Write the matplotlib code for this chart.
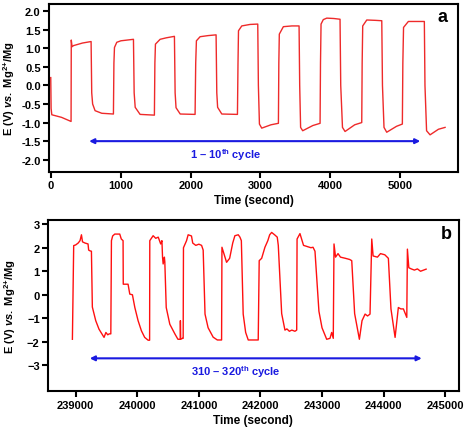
import matplotlib
matplotlib.use('Agg')
import matplotlib.pyplot as plt

plt.rcParams['font.family'] = ['Liberation Sans', 'DejaVu Sans']
plt.rcParams['font.weight'] = 'bold'
plt.rcParams['mathtext.fontset'] = 'custom'
plt.rcParams['mathtext.rm'] = 'Liberation Sans:bold'
plt.rcParams['mathtext.it'] = 'Liberation Sans:italic:bold'
plt.rcParams['mathtext.bf'] = 'Liberation Sans:bold'

# panel a : cycles 1-10
time_a = [-5, 0, 10, 150, 286,
          289, 300, 320, 450, 573,
          582, 595, 630, 726, 893,
          900, 908, 941, 1000, 1180,
          1190, 1205, 1275, 1480,
          1487, 1495, 1562, 1650, 1767,
          1777, 1790, 1850, 2063,
          2072, 2082, 2135, 2250, 2364,
          2374, 2386, 2446, 2670,
          2678, 2685, 2732, 2850, 2961,
          2970, 2985, 3018, 3150, 3257,
          3263, 3270, 3328, 3450, 3553,
          3562, 3575, 3605, 3750, 3854,
          3860, 3868, 3900, 3950, 4050, 4140,
          4150, 4175, 4212, 4350, 4451,
          4457, 4465, 4523, 4650, 4738,
          4748, 4770, 4809, 4950, 5033,
          5040, 5050, 5119, 5250, 5348,
          5357, 5380, 5430, 5550, 5645]
volt_a = [0.21, -0.62, -0.79, -0.86, -0.97,
          1.22, 1.04, 1.07, 1.14, 1.18,
          -0.2, -0.5, -0.68, -0.75, -0.77,
          0.6, 1.02, 1.16, 1.2, 1.24,
          -0.2, -0.59, -0.78, -0.80,
          0.6, 1.11, 1.24, 1.28, 1.32,
          -0.2, -0.6, -0.77, -0.78,
          0.6, 1.2, 1.31, 1.34, 1.36,
          -0.2, -0.59, -0.77, -0.78,
          0.6, 1.47, 1.6, 1.64, 1.65,
          0.0, -1.04, -1.15, -1.06, -1.02,
          0.6, 1.38, 1.58, 1.6, 1.6,
          0.0, -1.13, -1.22, -1.08, -1.02,
          0.6, 1.65, 1.77, 1.81, 1.8, 1.78,
          0.0, -1.13, -1.24, -1.06, -1.0,
          0.6, 1.6, 1.76, 1.75, 1.74,
          0.0, -1.13, -1.26, -1.1, -1.04,
          0.6, 1.56, 1.72, 1.72, 1.72,
          0.0, -1.22, -1.33, -1.18, -1.13]

# panel b : cycles 310-320
time_b = [238946, 238967, 239000, 239040, 239070, 239093, 239110, 239150, 239200, 239210, 239230, 239255,
          239270, 239325, 239378, 239460, 239490, 239520, 239545, 239570,
          239580, 239600, 239634, 239715, 239740, 239769, 239772, 239850, 239878, 239921,
          239960, 240013, 240067, 240120, 240176, 240200,
          240203, 240257, 240300, 240340, 240360, 240380, 240400, 240410, 240420, 240440, 240447,
          240470, 240528, 240610, 240660, 240698, 240700, 240705, 240735, 240745,
          240750, 240800, 240826, 240880, 240900, 240950, 241000, 241044, 241070,
          241100, 241150, 241232, 241300, 241369,
          241375, 241450, 241500, 241550, 241585, 241640, 241667, 241690,
          241720, 241760, 241802, 241964,
          241980, 242020, 242073, 242120, 242150, 242182, 242230, 242273, 242290,
          242345, 242398, 242430, 242470, 242510, 242560, 242589,
          242595, 242642, 242700, 242760, 242820, 242854, 242886,
          242950, 243000, 243076, 243130, 243157, 243183,
          243195, 243220, 243260, 243300, 243380, 243450, 243483,
          243530, 243607, 243650, 243700, 243740, 243780,
          243808, 243830, 243900, 243950, 244020, 244078,
          244120, 244187, 244240, 244280, 244322, 244377,
          244387, 244410, 244450, 244500, 244550, 244600, 244650, 244691]
volt_b = [-1.89, 2.09, 2.12, 2.2, 2.3, 2.55, 2.25, 2.2, 2.16, 1.9, 1.87, 1.85,
          -0.52, -1.1, -1.46, -1.81, -1.6, -1.7, -1.66, -1.66,
          2.3, 2.5, 2.58, 2.58, 2.37, 2.3, 0.45, 0.45, 0.03, 0.0,
          -0.54, -1.1, -1.53, -1.81, -1.93, -1.93,
          2.3, 2.51, 2.4, 2.45, 2.3, 2.16, 2.3, 1.6, 1.31, 1.6, 1.4,
          -0.54, -1.25, -1.66, -1.89, -1.89, -1.1, -1.89, -1.85, -1.85,
          2.0, 2.3, 2.55, 2.5, 2.2, 2.1, 2.15, 2.1, 1.9,
          -0.82, -1.4, -1.8, -1.92, -1.92,
          2.02, 1.38, 1.55, 2.2, 2.51, 2.55, 2.45, 2.3,
          -0.82, -1.6, -1.92, -1.92,
          1.45, 1.55, 2.02, 2.3, 2.55, 2.65, 2.55, 2.45, 2.1,
          -0.8, -1.5, -1.45, -1.55, -1.5, -1.55, -1.5,
          2.37, 2.6, 2.1, 2.05, 2.0, 2.02, 1.85,
          -0.7, -1.4, -1.89, -1.85, -1.6, -1.85,
          2.16, 1.6, 1.75, 1.6, 1.55, 1.5, 1.45,
          -0.8, -1.89, -1.1, -0.82, -0.9, -0.82,
          2.37, 1.65, 1.6, 1.75, 1.7, 1.55,
          -0.6, -1.81, -0.54, -0.6, -0.6, -0.96,
          1.94, 1.15, 1.1, 1.05, 1.1, 1.0, 1.05, 1.09]

xticks_a = [0, 1000, 2000, 3000, 4000, 5000]
yticks_a = [-2.0, -1.5, -1.0, -0.5, 0.0, 0.5, 1.0, 1.5, 2.0]
xticks_b = [239000, 240000, 241000, 242000, 243000, 244000, 245000]
yticks_b = [-3, -2, -1, 0, 1, 2, 3]

ylab = r'E (V) $\mathit{vs.}$ Mg$^{\text{2+}}$/Mg'

fig = plt.figure(figsize=(4.74, 4.35), dpi=100)
ax1 = fig.add_axes([0.1034, 0.6023, 0.8628, 0.3862])
ax2 = fig.add_axes([0.1013, 0.0982, 0.8664, 0.3944])

def style(ax, xlab):
    for s in ax.spines.values():
        s.set_linewidth(1.5)
    ax.tick_params(direction='out', length=4, width=1.5, labelsize=8, top=False, right=False, pad=2)
    for lab in ax.get_xticklabels() + ax.get_yticklabels():
        lab.set_fontweight('bold')
    ax.set_xlabel('Time (second)', fontsize=8.5, fontweight='bold', labelpad=3)
    ax.set_ylabel(ylab, fontsize=8, fontweight='bold')
    ax.yaxis.set_label_coords(xlab, 0.5)

ax1.plot(time_a, volt_a, color='#ee2a2a', lw=1)
ax1.set_xlim(-30, 5830)
ax1.set_ylim(-2.33, 2.19)
ax1.set_xticks(xticks_a)
ax1.set_yticks(yticks_a)
ax1.set_yticklabels(['%.1f' % v for v in yticks_a])
ax1.annotate('', xy=(545, -1.5), xytext=(5290, -1.5),
             arrowprops=dict(arrowstyle='<|-|>', color='#1a1ae0', lw=1.5, mutation_scale=7,
                             shrinkA=0, shrinkB=0))
ax1.text(2507, -1.85, r'1 – 10$^{\text{th}}$ cycle', color='#1a1ae0', fontsize=8, fontweight='bold',
         ha='center', va='center')
ax1.text(0.961, 0.923, 'a', transform=ax1.transAxes, fontsize=13, fontweight='bold',
         ha='center', va='center')
style(ax1, -0.078)

ax2.plot(time_b, volt_b, color='#ff1010', lw=1)
ax2.set_xlim(238550, 245220)
ax2.set_ylim(-4.1, 3.19)
ax2.set_xticks(xticks_b)
ax2.set_yticks(yticks_b)
ax2.annotate('', xy=(239228, -2.7), xytext=(244620, -2.7),
             arrowprops=dict(arrowstyle='<|-|>', color='#1a1ae0', lw=1.5, mutation_scale=7,
                             shrinkA=0, shrinkB=0))
ax2.text(241600, -3.26, r'310 – 320$^{\text{th}}$ cycle', color='#1a1ae0', fontsize=8, fontweight='bold',
         ha='center', va='center')
ax2.text(0.969, 0.917, 'b', transform=ax2.transAxes, fontsize=13, fontweight='bold',
         ha='center', va='center')
style(ax2, -0.073)

fig.savefig('out.png', dpi=100)
